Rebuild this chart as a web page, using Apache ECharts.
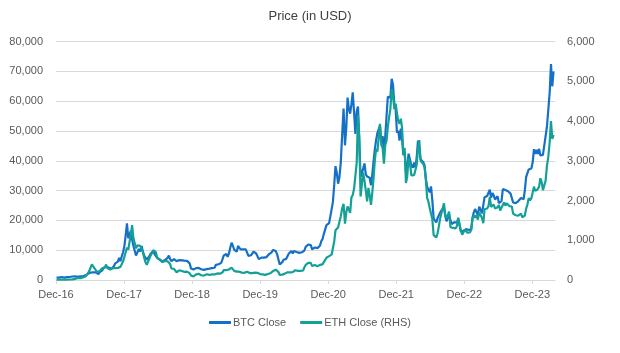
<!DOCTYPE html>
<html>
<head>
<meta charset="UTF-8">
<title>Price (in USD)</title>
<script src="https://cdn.jsdelivr.net/npm/echarts@6/dist/echarts.min.js"></script>
<style>
  html, body { margin: 0; padding: 0; background: #fff; }
  #main { width: 620px; height: 353px; }
</style>
</head>
<body>
<div id="main"></div>
<script>
// weekly closes, one block per year; each block starts on the first Sunday listed in weekStart
var weekStart = [[2016, 11, 4], [2017, 0, 1], [2018, 0, 7], [2019, 0, 6], [2020, 0, 5],
                 [2021, 0, 3], [2022, 0, 2], [2023, 0, 1], [2024, 0, 7]];

var btc2016 = [765, 780, 790, 895];
var btc2017 = [1000, 900, 820, 920, 965, 1025, 1000, 1050, 1180, 1270, 1230, 1030, 1040,
  1120, 1200, 1180, 1250, 1420, 1560, 1750, 2050, 2300, 2500, 2900, 2600, 2500,
  2550, 2500, 1950, 2700, 2750, 3250, 4100, 4050, 4350, 4600, 4200, 3700, 3700,
  4350, 4700, 5600, 5950, 6150, 7400, 6300, 8000, 9300, 11500, 15000, 19000, 14000, 13500];
var btc2018 = [16500, 13700, 11500, 11200, 8200, 8700, 10400, 9600, 11400, 9500, 8200, 8400,
  6800, 7000, 8000, 8900, 9250, 9700, 8700, 8200, 7400, 7700, 6800, 6500, 6200,
  6400, 6700, 6300, 7400, 8200, 7000, 6300, 6500, 7000, 7300, 6300, 6500, 6700, 6600,
  6600, 6400, 6500, 6400, 6400, 6350, 5600, 3900, 4200, 3500, 3250, 4000, 3850];
var btc2019 = [4050, 3550, 3600, 3550, 3400, 3650, 3650, 3850, 3800, 3950, 4000, 4000, 4100,
  5100, 5050, 5300, 5200, 5750, 6900, 8200, 8700, 8700, 7800, 8900, 10800, 12500,
  11500, 10200, 10400, 9500, 11400, 11300, 10300, 10100, 10300, 10400, 10300, 10000, 8100,
  7900, 8300, 8200, 9500, 9300, 8900, 8500, 7000, 7400, 7500, 7100, 7500, 7300];
var btc2020 = [7700, 8200, 8700, 8600, 9300, 10100, 9900, 9700, 8600, 8000, 5200, 5800, 6000,
  6800, 6900, 7100, 7600, 8900, 8700, 9700, 8900, 9700, 9700, 9400, 9700, 9100,
  9100, 9300, 9200, 9900, 11100, 11700, 11900, 11700, 11700, 10300, 10300, 10900, 10700,
  10700, 11300, 11500, 13000, 13700, 15500, 16000, 18400, 18200, 19100, 19300, 23800, 26300];
var btc2021 = [32000, 38200, 36000, 32300, 34300, 39200, 48700, 57500, 45200, 51200, 61200, 57400, 55800,
  59000, 63000, 56200, 49000, 56600, 58200, 46400, 34700, 35700, 35800, 39100, 35500, 34700,
  35300, 34300, 31800, 35400, 39800, 43800, 47000, 49300, 48900, 51800, 46000, 48300, 43200,
  48200, 54900, 61500, 61000, 61300, 67500, 65500, 59000, 57200, 49400, 50100, 46800, 50800];
var btc2022 = [47300, 41900, 43100, 36300, 37900, 42400, 42200, 38400, 37700, 39400, 37800, 41200, 46800,
  46400, 40500, 40400, 39500, 38500, 34000, 31300, 30300, 29400, 31400, 26700, 20600, 21000,
  19300, 20800, 20800, 22600, 23300, 23200, 24300, 21500, 19700, 19800, 21800, 20000, 18800,
  19000, 19400, 19100, 19200, 20600, 20900, 16300, 16700, 16500, 17100, 17100, 16800, 16800];
var btc2023 = [16600, 17100, 20900, 22700, 23800, 22800, 21800, 24600, 23500, 22400, 22000, 27800, 27500,
  28200, 28300, 30300, 27600, 29200, 28400, 27000, 26800, 28100, 25800, 25900, 26500, 30500,
  30600, 30200, 30300, 29800, 29300, 29000, 29300, 26000, 26000, 25800, 25800, 26500, 26300,
  27500, 27600, 27100, 30000, 34500, 35000, 37100, 36500, 37400, 39500, 43900, 42300, 43700, 42300];
var btc2024 = [44000, 41800, 41600, 42000, 42600, 48300, 51600, 51700, 63000, 72500, 65000, 70000];

var eth2016 = [7.8, 8.2, 7.9, 7.2];
var eth2017 = [9.9, 9.8, 9.9, 10.6, 10.7, 11.3, 12.8, 12.9, 15.5, 19, 28, 42, 50,
  44, 48, 48, 65, 80, 88, 90, 170, 230, 250, 395, 350, 290,
  270, 200, 160, 225, 220, 295, 290, 315, 390, 300, 290, 260, 300,
  300, 340, 300, 300, 305, 300, 330, 360, 470, 460, 700, 820, 760, 760];
var eth2018 = [1150, 1380, 1060, 1100, 800, 870, 900, 860, 860, 700, 560, 450,
  380, 420, 540, 620, 680, 750, 700, 700, 560, 610, 520, 500, 450,
  460, 480, 450, 470, 460, 400, 290, 280, 280, 290, 195, 220, 245, 230,
  225, 200, 205, 200, 210, 210, 170, 115, 110, 90, 85, 140, 135];
var eth2019 = [155, 125, 120, 110, 110, 120, 145, 135, 130, 135, 140, 135, 140,
  180, 165, 170, 160, 160, 190, 250, 250, 250, 235, 265, 300, 310,
  310, 230, 220, 210, 220, 210, 190, 185, 175, 180, 200, 210, 170,
  175, 185, 175, 180, 185, 185, 180, 150, 150, 150, 140, 130, 130];
var eth2020 = [140, 150, 165, 170, 190, 225, 270, 260, 230, 200, 125, 125, 135,
  145, 160, 180, 195, 210, 190, 205, 200, 240, 245, 230, 230, 230,
  230, 240, 240, 320, 380, 390, 430, 390, 430, 350, 370, 380, 355,
  345, 370, 380, 405, 395, 450, 455, 560, 590, 600, 590, 640, 685];
var eth2021 = [970, 1250, 1230, 1320, 1370, 1600, 1800, 1920, 1420, 1700, 1850, 1780, 1690,
  2080, 2140, 2300, 2300, 2950, 4150, 3600, 2100, 2400, 2700, 2500, 2250, 1980,
  2320, 2130, 1890, 2200, 2560, 3010, 3300, 3230, 3220, 3930, 3400, 3330, 2930,
  3400, 3500, 3850, 4100, 4300, 4800, 4640, 4300, 4440, 4200, 4000, 3930, 4060];
var eth2022 = [3830, 3150, 3330, 2440, 2600, 3060, 2930, 2630, 2620, 2640, 2590, 2900, 3300,
  3520, 3000, 3050, 2920, 2830, 2520, 2060, 1970, 1810, 1810, 1530, 1130, 1140,
  1070, 1170, 1350, 1550, 1680, 1700, 1930, 1630, 1550, 1580, 1720, 1330, 1310,
  1310, 1300, 1300, 1360, 1570, 1570, 1240, 1140, 1200, 1270, 1270, 1190, 1220];
var eth2023 = [1200, 1260, 1550, 1630, 1570, 1630, 1520, 1690, 1640, 1560, 1430, 1780, 1770,
  1800, 1860, 2090, 1840, 1870, 1900, 1800, 1810, 1830, 1890, 1750, 1720, 1890,
  1950, 1870, 1930, 1890, 1860, 1830, 1850, 1670, 1660, 1630, 1630, 1620, 1590,
  1670, 1580, 1560, 1620, 1790, 1900, 2060, 2000, 2060, 2200, 2350, 2240, 2270, 2290];
var eth2024 = [2350, 2560, 2470, 2260, 2310, 2500, 2880, 3110, 3480, 4000, 3550, 3650];

var btcYears = [btc2016, btc2017, btc2018, btc2019, btc2020, btc2021, btc2022, btc2023, btc2024];
var ethYears = [eth2016, eth2017, eth2018, eth2019, eth2020, eth2021, eth2022, eth2023, eth2024];

var tickLabels = ['Dec-16', 'Dec-17', 'Dec-18', 'Dec-19', 'Dec-20', 'Dec-21', 'Dec-22', 'Dec-23'];

// x = months since 1 Dec 2016
function monthPos(d) {
    var y = d.getUTCFullYear(), m = d.getUTCMonth();
    var days = new Date(Date.UTC(y, m + 1, 0)).getUTCDate();
    return (y - 2016) * 12 + (m - 11) + (d.getUTCDate() - 1) / days;
}

function build(years) {
    var out = [];
    for (var i = 0; i < years.length; i++) {
        var s = weekStart[i];
        for (var j = 0; j < years[i].length; j++) {
            var d = new Date(Date.UTC(s[0], s[1], s[2] + j * 7));
            out.push([monthPos(d), years[i][j]]);
        }
    }
    return out;
}

var tickPos = tickLabels.map(function (t, i) { return i * 12; });
var font = 'Liberation Sans';

var myChart = echarts.init(document.getElementById('main'));
var option = {
    animation: false,
    textStyle: { fontFamily: font },
    title: {
        text: 'Price (in USD)',
        left: 'center',
        top: 5,
        textStyle: { fontFamily: font, fontSize: 13, fontWeight: 'normal', color: '#404040' }
    },
    legend: {
        bottom: 20,
        left: 'center',
        icon: 'rect',
        itemWidth: 22,
        itemHeight: 3,
        itemGap: 14,
        textStyle: { fontFamily: font, fontSize: 11, color: '#595959', padding: [0, 0, 0, -3] },
        data: ['BTC Close', 'ETH Close (RHS)']
    },
    grid: { left: 56, right: 65, top: 41.6, bottom: 73 },
    xAxis: {
        type: 'value',
        min: 0,
        max: 88,
        interval: 12,
        splitLine: { show: false },
        axisLine: { lineStyle: { color: '#d9d9d9' } },
        axisTick: { show: true, length: 4, customValues: tickPos, lineStyle: { color: '#d9d9d9' } },
        axisLabel: {
            customValues: tickPos,
            margin: 9,
            fontSize: 11,
            color: '#595959',
            formatter: function (v) { return tickLabels[Math.round(v / 12)] || ''; }
        }
    },
    yAxis: [{
        type: 'value',
        min: 0,
        max: 80000,
        interval: 10000,
        axisLine: { show: false },
        axisTick: { show: false },
        splitLine: { lineStyle: { color: '#d9d9d9' } },
        axisLabel: {
            margin: 13,
            fontSize: 11,
            color: '#595959',
            formatter: function (v) { return v.toLocaleString('en-US'); }
        }
    }, {
        type: 'value',
        min: 0,
        max: 6000,
        interval: 1000,
        axisLine: { show: false },
        axisTick: { show: false },
        splitLine: { show: false },
        axisLabel: {
            margin: 12,
            fontSize: 11,
            color: '#595959',
            formatter: function (v) { return v.toLocaleString('en-US'); }
        }
    }],
    series: [{
        name: 'BTC Close',
        type: 'line',
        yAxisIndex: 0,
        showSymbol: false,
        color: '#1570c8',
        lineStyle: { width: 2.2 },
        data: build(btcYears)
    }, {
        name: 'ETH Close (RHS)',
        type: 'line',
        yAxisIndex: 1,
        showSymbol: false,
        color: '#13a096',
        lineStyle: { width: 2.2 },
        data: build(ethYears)
    }]
};
myChart.setOption(option);
</script>
</body>
</html>
